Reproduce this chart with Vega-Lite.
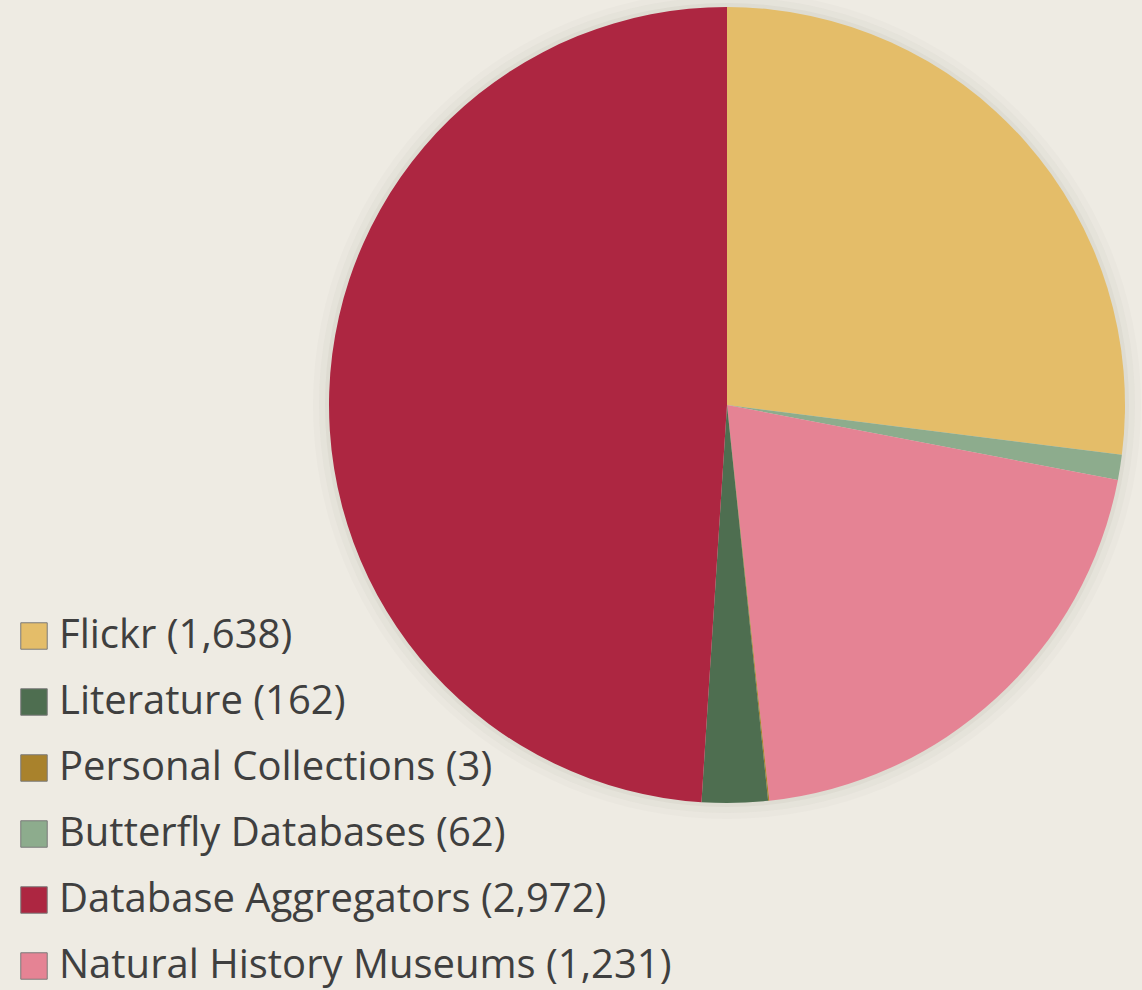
{
  "$schema": "https://vega.github.io/schema/vega-lite/v6.json",
  "width": 830,
  "height": 810,
  "padding": {"left": 312, "top": 0, "right": 0, "bottom": 180},
  "autosize": "none",
  "background": "#EEEBE3",
  "config": {"view": {"stroke": null}},
  "data": {"values": [
    {"source": "Flickr", "label": "Flickr (1,638)", "count": 1638, "pieOrder": 1, "legendOrder": 1},
    {"source": "Butterfly Databases", "label": "Butterfly Databases (62)", "count": 62, "pieOrder": 2, "legendOrder": 4},
    {"source": "Natural History Museums", "label": "Natural History Museums (1,231)", "count": 1231, "pieOrder": 3, "legendOrder": 6},
    {"source": "Personal Collections", "label": "Personal Collections (3)", "count": 3, "pieOrder": 4, "legendOrder": 3},
    {"source": "Literature", "label": "Literature (162)", "count": 162, "pieOrder": 5, "legendOrder": 2},
    {"source": "Database Aggregators", "label": "Database Aggregators (2,972)", "count": 2972, "pieOrder": 6, "legendOrder": 5}
  ]},
  "layer": [
    {
      "mark": {"type": "arc", "radius": 414, "fill": "#8a8678", "opacity": 0.03},
      "encoding": {"theta": {"aggregate": "sum", "field": "count", "type": "quantitative", "stack": true}}
    },
    {
      "mark": {"type": "arc", "radius": 408, "fill": "#8a8678", "opacity": 0.045},
      "encoding": {"theta": {"aggregate": "sum", "field": "count", "type": "quantitative", "stack": true}}
    },
    {
      "mark": {"type": "arc", "radius": 402, "fill": "#8a8678", "opacity": 0.07},
      "encoding": {"theta": {"aggregate": "sum", "field": "count", "type": "quantitative", "stack": true}}
    },
    {
      "mark": {"type": "arc", "radius": 398},
      "encoding": {
        "theta": {"field": "count", "type": "quantitative", "stack": true},
        "order": {"field": "pieOrder", "type": "quantitative", "sort": "ascending"},
        "color": {
          "field": "label",
          "type": "nominal",
          "sort": ["Flickr (1,638)", "Literature (162)", "Personal Collections (3)", "Butterfly Databases (62)", "Database Aggregators (2,972)", "Natural History Museums (1,231)"],
          "scale": {
            "domain": ["Flickr (1,638)", "Literature (162)", "Personal Collections (3)", "Butterfly Databases (62)", "Database Aggregators (2,972)", "Natural History Museums (1,231)"],
            "range": ["#E4BD69", "#4E6E50", "#A9822C", "#8DAC8D", "#AD2641", "#E58394"]
          },
          "legend": {
            "title": null,
            "orient": "none",
            "legendX": -298,
            "legendY": 616,
            "symbolType": "square",
            "symbolSize": 700,
            "symbolStrokeColor": "#7a7a7a",
            "symbolStrokeWidth": 1,
            "symbolOpacity": 1,
            "labelFont": "Open Sans",
            "labelFontSize": 40,
            "labelColor": "#3F3F3F",
            "labelLimit": 900,
            "labelOffset": 5,
            "rowPadding": 26
          }
        }
      }
    }
  ]
}
